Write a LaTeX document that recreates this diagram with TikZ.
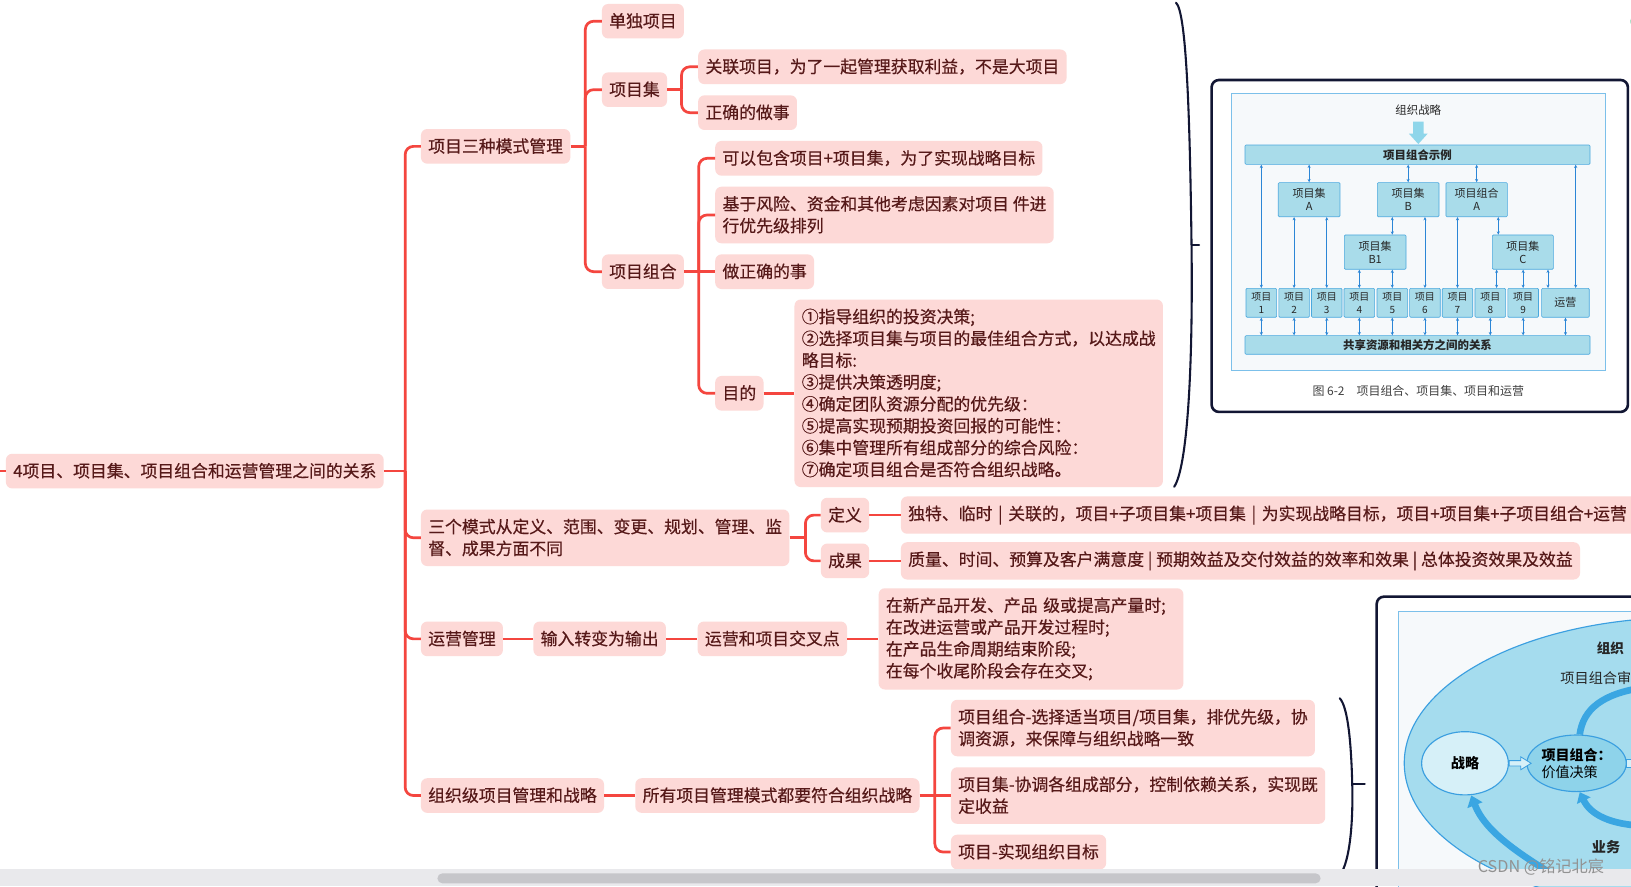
\documentclass[tikz,border=0pt]{standalone}
\usepackage{fontspec}
\setmainfont{Noto Sans CJK SC}
\newfontfamily\mmfont{Noto Sans CJK SC}[FakeBold=0.5]
\usetikzlibrary{calc,arrows.meta,shapes.geometric}
\definecolor{mmfill}{HTML}{FDD9D7}
\definecolor{mmtext}{HTML}{561919}
\definecolor{mmline}{HTML}{F4463F}
\definecolor{navy}{HTML}{121633}
\definecolor{pfill}{HTML}{A9DCEA}
\definecolor{pline}{HTML}{4AA8DE}
\definecolor{parrc}{HTML}{2B86D6}
\definecolor{ofill}{HTML}{A5DCEE}
\definecolor{oline}{HTML}{3B9FE0}
\definecolor{olight}{HTML}{D6F0F8}
\definecolor{omid}{HTML}{8ED3EA}
\definecolor{thickb}{HTML}{3AA6E2}
\definecolor{inner}{HTML}{7CC0EA}
\definecolor{innerbg}{HTML}{F6F9FB}
\definecolor{barbg}{HTML}{E9E9EC}
\definecolor{thumbc}{HTML}{C6C6CA}
\definecolor{wmark}{HTML}{929292}
\definecolor{bigarr}{HTML}{8FD6EA}
\definecolor{greendot}{HTML}{1FB36A}
\newcommand\mmstrut{\rule[-2pt]{0pt}{14pt}}
\tikzset{
  mm/.style={fill=mmfill, text=mmtext, rounded corners=6pt, inner xsep=7pt, inner ysep=8.8pt,
    anchor=west, align=left, font=\mmfont\fontsize{16.2}{21}\selectfont,
    execute at begin node=\mmstrut, execute at end node=\mmstrut},
  edge/.style={draw=mmline, line width=2.6pt, rounded corners=8pt},
  brace/.style={draw=navy, line width=2pt, line cap=round},
  frame/.style={draw=navy, line width=2.5pt, rounded corners=7pt, fill=white},
  pbox/.style={draw=pline, fill=pfill, line width=0.6pt, rounded corners=1pt, inner sep=0pt,
    align=center, text=black!85, font=\fontsize{9.6}{12.8}\selectfont},
  sbox/.style={pbox, font=\fontsize{10.6}{12.8}\selectfont, minimum width=59.3pt, minimum height=32.8pt},
  ibox/.style={pbox, minimum width=29.4pt, minimum height=27.8pt},
  wbar/.style={pbox, minimum width=331.7pt, font=\bfseries\fontsize{11}{13}\selectfont},
  parr/.style={draw=parrc, line width=0.6pt, {Stealth[length=3.2pt,width=3pt]}-{Stealth[length=3.2pt,width=3pt]}},
  oval/.style={ellipse, draw=oline, line width=1.1pt, inner sep=0pt},
  thickarc/.style={draw=thickb, line width=6.4pt},
  plain/.style={inner sep=0pt, anchor=west, text=black!85},
}
\begin{document}
\begin{tikzpicture}[x=1pt,y=-1pt]
\useasboundingbox (0,0) rectangle (1568,852);
\begin{scope}
\clip (0,0) rectangle (1568,852);
\fill[white] (0,0) rectangle (1568,852);

% ---------- mind map nodes ----------
\node[mm] (root) at (5.5,452.9) {4项目、项目集、项目组合和运营管理之间的关系};
\coordinate (stub) at (-3,452.9);
\coordinate (jA) at (389.5,452.9);
\node[mm] (n1) at (404.5,140.7) {项目三种模式管理};
\node[mm] (n2) at (404.5,517) {三个模式从定义、范围、变更、规划、管理、监\\督、成果方面不同};
\node[mm] (n3) at (404.5,614.2) {运营管理};
\node[mm] (n4) at (404.5,764.8) {组织级项目管理和战略};

\coordinate (jB) at (562.7,140.7);
\node[mm] (a1) at (578.5,20.4) {单独项目};
\node[mm] (a2) at (578.5,86.2) {项目集};
\node[mm] (a3) at (578.5,261.2) {项目组合};

\coordinate (jC) at (655.2,86.2);
\node[mm] (b1) at (671,64.2) {关联项目，为了一起管理获取利益，不是大项目};
\node[mm] (b2) at (671,108.3) {正确的做事};

\coordinate (jD) at (671.7,261.2);
\node[mm] (c1) at (687.4,152.2) {可以包含项目+项目集，为了实现战略目标};
\node[mm] (c2) at (687.4,206.7) {基于风险、资金和其他考虑因素对项目 件进\\行优先级排列};
\node[mm] (c3) at (687.4,261.2) {做正确的事};
\node[mm] (c4) at (687.4,378.1) {目的};
\node[mm] (c5) at (763.6,378.1) {①指导组织的投资决策;\\②选择项目集与项目的最佳组合方式，以达成战\\略目标:\\③提供决策透明度;\\④确定团队资源分配的优先级：\\⑤提高实现预期投资回报的可能性：\\⑥集中管理所有组成部分的综合风险：\\⑦确定项目组合是否符合组织战略。};

\coordinate (jE) at (774.3,517);
\node[mm] (d1) at (789,495.2) {定义};
\node[mm] (d2) at (789,539.2) {成果};
\node[mm, text width=705pt] (e1) at (865.9,495.2) {独特、临时 | 关联的，项目+子项目集+项目集 | 为实现战略目标，项目+项目集+子项目组合+运营};
\node[mm] (e2) at (865.9,539.2) {质量、时间、预算及客户满意度 | 预期效益及交付效益的效率和效果 | 总体投资效果及效益};

\node[mm] (f1) at (512.6,614.2) {输入转变为输出};
\node[mm] (f2) at (670.5,614.2) {运营和项目交叉点};
\node[mm, text width=279pt] (f3) at (844.5,614.2) {在新产品开发、产品 级或提高产量时;\\在改进运营或产品开发过程时;\\在产品生命周期结束阶段;\\在每个收尾阶段会存在交叉;};

\node[mm] (g1) at (610.6,764.8) {所有项目管理模式都要符合组织战略};
\coordinate (jF) at (898.7,764.8);
\node[mm] (h1) at (914,699.9) {项目组合-选择适当项目/项目集，排优先级，协\\调资源，来保障与组织战略一致};
\node[mm] (h2) at (914,764.8) {项目集-协调各组成部分，控制依赖关系，实现既\\定收益};
\node[mm] (h3) at (914,819.1) {项目-实现组织目标};

% ---------- mind map connectors ----------
\draw[edge] (stub) -- (root.west);
\draw[edge] (root.east) -- (jA);
\foreach \n in {n1,n2,n3,n4} \draw[edge] (jA) |- (\n.west);
\draw[edge] (n1.east) -- (jB);
\foreach \n in {a1,a2,a3} \draw[edge] (jB) |- (\n.west);
\draw[edge] (a2.east) -- (jC);
\foreach \n in {b1,b2} \draw[edge] (jC) |- (\n.west);
\draw[edge] (a3.east) -- (jD);
\foreach \n in {c1,c2,c4} \draw[edge] (jD) |- (\n.west);
\draw[edge] (jD) -- (c3.west);
\draw[edge] (c4.east) -- (c5.west);
\draw[edge] (n2.east) -- (jE);
\foreach \n in {d1,d2} \draw[edge] (jE) |- (\n.west);
\draw[edge] (d1.east) -- (e1.west);
\draw[edge] (d2.east) -- (e2.west);
\draw[edge] (n3.east) -- (f1.west);
\draw[edge] (f1.east) -- (f2.west);
\draw[edge] (f2.east) -- (f3.west);
\draw[edge] (n4.east) -- (g1.west);
\draw[edge] (g1.east) -- (jF);
\foreach \n in {h1,h3} \draw[edge] (jF) |- (\n.west);
\draw[edge] (jF) -- (h2.west);

% ---------- braces ----------
\draw[brace] (1130.6,2.6) .. controls (1141,12) and (1144,120) .. (1145.5,235.5)
  .. controls (1147,360) and (1141,450) .. (1128.8,468);
\draw[brace] (1145.5,235.5) -- (1152.7,235.5);
\draw[brace] (1288,671.3) .. controls (1296,680) and (1299,715) .. (1300,754)
  .. controls (1301,795) and (1297,828) .. (1289,840);
\draw[brace] (1300,754) -- (1312,754);

% ---------- picture 1 ----------
\draw[frame] (1164.8,76.9) rectangle (1565,396);
\draw[draw=inner, fill=innerbg, line width=0.8pt] (1184,89.7) rectangle (1543.6,355.7);
\node[font=\fontsize{11}{13}\selectfont, text=black!85, inner sep=0pt] (orgs) at (1363.5,105.7) {组织战略};
\fill[bigarr] (1358.5,117) -- (1368.5,117) -- (1368.5,128.5) -- (1372.5,128.5) -- (1363.5,138.5)
  -- (1354.5,128.5) -- (1358.5,128.5) -- cycle;
\node[wbar, minimum height=18.6pt] (bar) at (1362.75,148.7) {项目组合示例};
\node[wbar, minimum height=17.9pt] (shared) at (1362.75,331.65) {共享资源和相关方之间的关系};
\node[sbox] (sA) at (1258.55,191.95) {项目集\\A};
\node[sbox] (sB) at (1353.75,191.95) {项目集\\B};
\node[sbox, minimum width=59pt] (pA) at (1419.6,191.95) {项目组合\\A};
\node[sbox, minimum height=33pt] (sB1) at (1322.05,242.4) {项目集\\B1};
\node[sbox, minimum width=58.6pt, minimum height=33pt] (sC) at (1464,242.4) {项目集\\C};
\node[ibox] (i1) at (1212.6,291.1) {项目\\1};
\node[ibox] (i2) at (1244.1,291.1) {项目\\2};
\node[ibox] (i3) at (1275.5,291.1) {项目\\3};
\node[ibox] (i4) at (1306.8,291.1) {项目\\4};
\node[ibox] (i5) at (1338.5,291.1) {项目\\5};
\node[ibox] (i6) at (1369.9,291.1) {项目\\6};
\node[ibox] (i7) at (1401.2,291.1) {项目\\7};
\node[ibox] (i8) at (1432.7,291.1) {项目\\8};
\node[ibox] (i9) at (1464.3,291.1) {项目\\9};
\node[ibox, minimum width=45.8pt, font=\fontsize{10.6}{12.8}\selectfont] (op) at (1505,291.1) {运营};
\draw[parr] (bar.south -| i1.north) -- (i1.north);
\draw[parr] (bar.south -| sA.north) -- (sA.north);
\draw[parr] (bar.south -| sB.north) -- (sB.north);
\draw[parr] (bar.south -| pA.north) -- (pA.north);
\draw[parr] ($(bar.south -| op.north)+(9.8,0)$) -- ($(op.north)+(9.8,0)$);
\draw[parr] (sA.south -| i2.north) -- (i2.north);
\draw[parr] (sA.south -| i3.north) -- (i3.north);
\draw[parr] (sB.south -| i5.north) -- (sB1.north -| i5.north);
\draw[parr] (sB.south -| i6.north) -- (i6.north);
\draw[parr] (sB1.south -| i4.north) -- (i4.north);
\draw[parr] (sB1.south -| i5.north) -- (i5.north);
\draw[parr] (pA.south -| i7.north) -- (i7.north);
\draw[parr] ($(pA.south -| i8.north)+(7.7,0)$) -- ($(sC.north -| i8.north)+(7.7,0)$);
\draw[parr] ($(sC.south -| i8.north)+(6.1,0)$) -- ($(i8.north)+(6.1,0)$);
\draw[parr] (sC.south -| i9.north) -- (i9.north);
\draw[parr] ($(sC.south -| op.north)+(-16.8,0)$) -- ($(op.north)+(-16.8,0)$);
\foreach \i in {i1,i2,i3,i4,i5,i6,i7,i8,i9,op} \draw[parr] (\i.south) -- (shared.north -| \i.south);
\node[font=\fontsize{11.5}{13}\selectfont, text=black!75, inner sep=0pt] (cap) at (1363.5,375.6) {图 6-2\hspace{1em}项目组合、项目集、项目和运营};

% ---------- picture 2 ----------
\draw[frame] (1323.5,573.6) rectangle (1620,920);
\draw[draw=inner, fill=innerbg, line width=0.8pt] (1344.3,588) rectangle (1610,910);
\draw[draw=oline, fill=ofill, line width=1.1pt] (1620,733.6) ellipse [x radius=270pt, y radius=140pt];
\node[plain, font=\bfseries\fontsize{13}{15}\selectfont] (t1) at (1535,623.3) {组织};
\node[plain, font=\fontsize{13.6}{15}\selectfont] (t2) at (1500,652) {项目组合审};
\node[plain, font=\bfseries\fontsize{13.6}{15}\selectfont] (t3) at (1530.2,814) {业务};
\node[oval, fill=olight, minimum width=83.4pt, minimum height=60.8pt, font=\bfseries\fontsize{13.6}{16}\selectfont] (strat) at (1408.4,733.8) {战略};
\node[oval, fill=omid, minimum width=86.6pt, minimum height=54.4pt, font=\fontsize{13.5}{16}\selectfont, align=left] (pv) at (1515.7,733.8) {\textbf{项目组合：}\\价值决策};
\filldraw[draw=oline, fill=olight, line width=0.8pt] (1451,731.2) -- (1462,731.2) -- (1462,727.6)
  -- (1472,733.8) -- (1462,740) -- (1462,736.4) -- (1451,736.4) -- cycle;
\filldraw[draw=oline, fill=olight, line width=0.8pt] ($(pv.east)+(0,-3.8)$) rectangle (1585,737.6);
\draw[thickarc] ([xshift=3pt]pv.north) .. controls (1522,682) and (1540,667) .. (1580,661);
\draw[thickarc, -{Triangle[length=9pt,width=14pt]}] (1582,794) .. controls (1548,793) and (1529,783) .. ([xshift=3pt]pv.south);
\draw[thickarc, -{Triangle[length=10pt,width=15pt]}] (1500,845) .. controls (1462,822) and (1428,800) .. ([xshift=6pt]strat.south);

% ---------- top-right dot ----------
\fill[greendot] (1577,20.5) circle (9.5pt);

% ---------- scrollbar and watermark ----------
\fill[barbg] (0,835.7) rectangle (1568,852);
\fill[thumbc, rounded corners=4.8pt] (420.5,839.6) rectangle (1269.6,849.2);
\node[plain, font=\fontsize{15.6}{17}\selectfont, text=wmark] (wm) at (1420.5,833.8) {CSDN @铭记北宸};
\end{scope}
\end{tikzpicture}
\end{document}
